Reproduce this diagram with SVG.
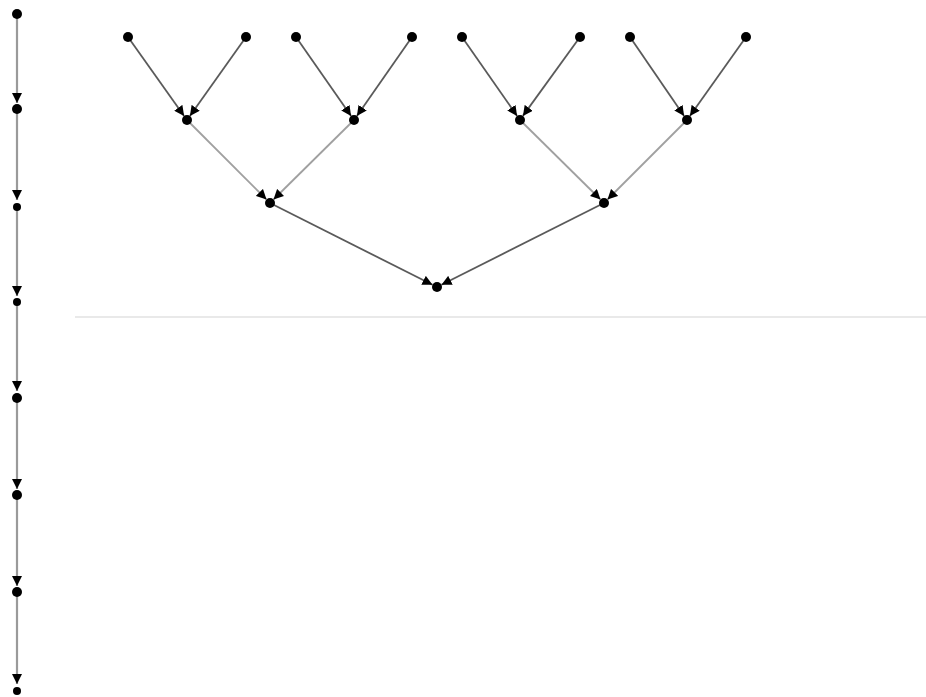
<svg xmlns="http://www.w3.org/2000/svg" width="926" height="697" viewBox="0 0 926 697">
<style>
.n{fill:#000}
.e{stroke:#5a5a5a;stroke-width:1.8;fill:none;marker-end:url(#a)}
.e2{stroke:#a0a0a0;stroke-width:1.8;fill:none;marker-end:url(#a)}
.v{stroke:#9a9a9a;stroke-width:2.2;fill:none;marker-end:url(#a)}
</style>
<defs>
<marker id="a" markerUnits="userSpaceOnUse" markerWidth="10" markerHeight="10" viewBox="0 0 10 10" refX="10" refY="5" orient="auto"><path d="M0,0 L10,5 L0,10 z" fill="#000"/></marker>
</defs>
<rect width="926" height="697" fill="#fff"/>
<line x1="75" y1="317" x2="926" y2="317" stroke="#e2e2e2" stroke-width="1.5"/>
<g id="edges">
<line class="e" x1="128" y1="37" x2="184.1" y2="115.9"/>
<line class="e" x1="246" y1="37" x2="189.9" y2="115.9"/>
<line class="e" x1="296" y1="37" x2="351.1" y2="115.9"/>
<line class="e" x1="412" y1="37" x2="356.9" y2="115.9"/>
<line class="e" x1="462" y1="37" x2="517.1" y2="115.9"/>
<line class="e" x1="580" y1="37" x2="522.9" y2="115.9"/>
<line class="e" x1="630" y1="37" x2="684.1" y2="115.9"/>
<line class="e" x1="746" y1="37" x2="689.9" y2="115.9"/>
<line class="e2" x1="187" y1="120" x2="266.5" y2="199.5"/>
<line class="e2" x1="354" y1="120" x2="273.5" y2="199.5"/>
<line class="e2" x1="520" y1="120" x2="600.5" y2="199.5"/>
<line class="e2" x1="687" y1="120" x2="607.5" y2="199.5"/>
<line class="e" x1="270" y1="203" x2="432.5" y2="284.8"/>
<line class="e" x1="604" y1="203" x2="441.5" y2="284.8"/>
<line class="v" x1="17" y1="14" x2="17" y2="103"/>
<line class="v" x1="17" y1="109" x2="17" y2="200"/>
<line class="v" x1="17" y1="207" x2="17" y2="296"/>
<line class="v" x1="17" y1="302" x2="17" y2="391"/>
<line class="v" x1="17" y1="398" x2="17" y2="489"/>
<line class="v" x1="17" y1="495" x2="17" y2="586"/>
<line class="v" x1="17" y1="592" x2="17" y2="684"/>
</g>
<g id="c0"><circle class="n" cx="17" cy="14" r="5"/></g>
<g id="c1"><circle class="n" cx="17" cy="109" r="5"/></g>
<g id="c2"><circle class="n" cx="17" cy="207" r="4"/></g>
<g id="c3"><circle class="n" cx="17" cy="302" r="4"/></g>
<g id="c4"><circle class="n" cx="17" cy="398" r="5"/></g>
<g id="c5"><circle class="n" cx="17" cy="495" r="5"/></g>
<g id="c6"><circle class="n" cx="17" cy="592" r="5"/></g>
<g id="c7"><circle class="n" cx="17" cy="691" r="4"/></g>
<g id="t0"><circle class="n" cx="128" cy="37" r="5"/></g>
<g id="t1"><circle class="n" cx="246" cy="37" r="5"/></g>
<g id="t2"><circle class="n" cx="296" cy="37" r="5"/></g>
<g id="t3"><circle class="n" cx="412" cy="37" r="5"/></g>
<g id="t4"><circle class="n" cx="462" cy="37" r="5"/></g>
<g id="t5"><circle class="n" cx="580" cy="37" r="5"/></g>
<g id="t6"><circle class="n" cx="630" cy="37" r="5"/></g>
<g id="t7"><circle class="n" cx="746" cy="37" r="5"/></g>
<g id="m0"><circle class="n" cx="187" cy="120" r="5"/></g>
<g id="m1"><circle class="n" cx="354" cy="120" r="5"/></g>
<g id="m2"><circle class="n" cx="520" cy="120" r="5"/></g>
<g id="m3"><circle class="n" cx="687" cy="120" r="5"/></g>
<g id="s0"><circle class="n" cx="270" cy="203" r="5"/></g>
<g id="s1"><circle class="n" cx="604" cy="203" r="5"/></g>
<g id="root"><circle class="n" cx="437" cy="287" r="5"/></g>
</svg>
